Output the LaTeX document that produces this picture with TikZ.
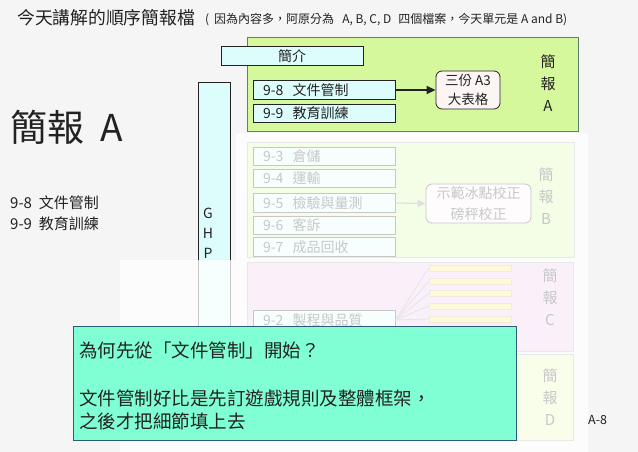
\documentclass[tikz,border=0pt]{standalone}
\usepackage{fontspec}
\setmainfont{Noto Sans CJK TC}
\usetikzlibrary{arrows.meta}
\definecolor{bgcol}{HTML}{F5F5F5}
\definecolor{agreen}{HTML}{D6F89C}
\definecolor{aborder}{HTML}{5A8070}
\definecolor{cyanbox}{HTML}{DDFDFD}
\definecolor{pinkbox}{HTML}{FDF4F4}
\definecolor{cpink}{HTML}{EDC6ED}
\definecolor{ybar}{HTML}{FFE46A}
\definecolor{ybord}{HTML}{C8B070}
\definecolor{callfill}{HTML}{80FFD4}
\definecolor{callbord}{HTML}{2E5B78}
\definecolor{txt}{HTML}{222222}
\newcommand{\fs}[1]{\fontsize{#1}{#1}\selectfont}
\tikzset{
  blockbox/.style={draw=aborder, line width=0.8pt, fill=agreen},
  grayblock/.style={draw=gray!70, line width=0.8pt},
  itembox/.style={draw=txt, line width=0.8pt, fill=cyanbox, minimum height=18.5pt,
    text width=122pt, inner xsep=10pt, inner ysep=0pt, align=left, font=\fs{14}, text=txt},
  lbl/.style={font=\fs{15}, text=txt, inner sep=0pt},
  rbox/.style={draw=txt, line width=0.8pt, rounded corners=6pt, fill=pinkbox, align=center,
    text=txt, inner sep=0pt},
  yb/.style={draw=ybord, line width=0.6pt, fill=ybar, minimum width=82pt, minimum height=6pt, inner sep=0pt},
}
\begin{document}
\begin{tikzpicture}[x=1pt,y=-1pt]
\fill[bgcol] (0,0) rectangle (638,452);
\useasboundingbox (0,0) rectangle (638,452);

% title
\node[anchor=base west, inner sep=0pt, text=txt] (title) at (17,25) {\fs{17.8}今天講解的順序簡報檔};
\node[anchor=base west, inner sep=0pt, text=txt] (subtitle) at (205,24) {\fs{12}(\hspace{5pt}因為內容多，阿原分為\hspace{8pt}A, B, C, D\hspace{7pt}四個檔案，今天單元是 A and B)};

% left text
\node[anchor=west, inner sep=0pt, text=txt] (bigA) at (10,127) {\fs{37}簡報\ \ A};
\node[anchor=west, inner sep=0pt, text=txt] (l98) at (10,203) {\fs{15}9-8\ \ 文件管制};
\node[anchor=west, inner sep=0pt, text=txt] (l99) at (10,224) {\fs{15}9-9\ \ 教育訓練};

% GHP bar
\node[draw=txt, line width=0.8pt, fill=cyanbox, minimum width=32pt, minimum height=358pt, inner sep=0pt] (ghp) at (214,261) {};
\node[lbl, font=\fs{14}] (g) at (208,213) {G};
\node[lbl, font=\fs{14}] (h) at (208,233) {H};
\node[lbl, font=\fs{14}] (p) at (208,253) {P};

% Block A
\node[blockbox, minimum width=331pt, minimum height=94pt, inner sep=0pt] (blockA) at (412.5,84) {};
\node[itembox, text width=122pt, align=center] (intro) at (292,56) {簡介};
\node[itembox] (i98) at (324,90) {9-8\ \ 文件管制};
\node[itembox] (i99) at (324,113.5) {9-9\ \ 教育訓練};
\node[rbox, font=\fontsize{13.5}{19}\selectfont, minimum width=64pt, minimum height=38pt] (a3) at (468,90) {三份 A3\\大表格};
\draw[line width=1.6pt, txt, -{Triangle[length=9pt,width=8pt]}] (i98.east) -- (a3.west);
\node[lbl] (la1) at (548,62) {簡};
\node[lbl] (la2) at (548,84) {報};
\node[lbl] (la3) at (548,106) {A};

% Block B
\node[grayblock, fill=agreen, minimum width=327pt, minimum height=115pt, inner sep=0pt] (blockB) at (410.5,199.5) {};
\node[itembox] (i93) at (324,156.5) {9-3\ \ 倉儲};
\node[itembox] (i94) at (324,178.5) {9-4\ \ 運輸};
\node[itembox] (i95) at (324,203) {9-5\ \ 檢驗與量測};
\node[itembox] (i96) at (324,225.5) {9-6\ \ 客訴};
\node[itembox] (i97) at (324,247) {9-7\ \ 成品回收};
\node[rbox, font=\fontsize{14}{21}\selectfont, minimum width=105pt, minimum height=39pt] (ice) at (478.5,203.5) {示範冰點校正\\磅秤校正};
\draw[line width=1.2pt, gray, -{Triangle[length=8pt,width=7pt]}] (i95.east) -- (ice.west);
\node[lbl] (lb1) at (546,175) {簡};
\node[lbl] (lb2) at (546,197) {報};
\node[lbl] (lb3) at (546,219) {B};

% Block C
\node[grayblock, fill=cpink, minimum width=326pt, minimum height=89pt, inner sep=0pt] (blockC) at (410,306.5) {};
\node[itembox] (i92) at (324,320) {9-2\ \ 製程與品質};
\foreach \n/\y in {1/268,2/281,3/293.5,4/306,5/319}{
  \node[yb] (y\n) at (470,\y) {};
  \draw[gray!80, line width=0.8pt] (i92.east) -- (y\n.west);
}
\node[lbl] (lc1) at (550,276) {簡};
\node[lbl] (lc2) at (550,298) {報};
\node[lbl] (lc3) at (550,320) {C};

% Block D
\node[grayblock, fill=agreen!80!yellow!60!white, minimum width=326pt, minimum height=86pt, inner sep=0pt] (blockD) at (410,397) {};
\node[lbl] (ld1) at (550,376) {簡};
\node[lbl] (ld2) at (550,398) {報};
\node[lbl] (ld3) at (550,420) {D};

% fading overlay
\fill[white, opacity=0.75] (236,133) rectangle (588,452);
\fill[white, opacity=0.75] (120,260) rectangle (236,452);

% callout
\node[draw=callbord, line width=0.9pt, fill=callfill, minimum width=443pt, minimum height=114pt, inner sep=0pt] (callout) at (294.5,383) {};
\node[anchor=west, inner sep=0pt, text=txt] (q1) at (79,350) {\fs{18.5}為何先從「文件管制」開始？};
\node[anchor=west, inner sep=0pt, text=txt] (q2) at (79,398) {\fs{18.5}文件管制好比是先訂遊戲規則及整體框架，};
\node[anchor=west, inner sep=0pt, text=txt] (q3) at (79,421) {\fs{18.5}之後才把細節填上去};

% page number
\node[anchor=west, inner sep=0pt, text=txt] (pg) at (588,420) {\fs{12.5}A-8};
\end{tikzpicture}
\end{document}
